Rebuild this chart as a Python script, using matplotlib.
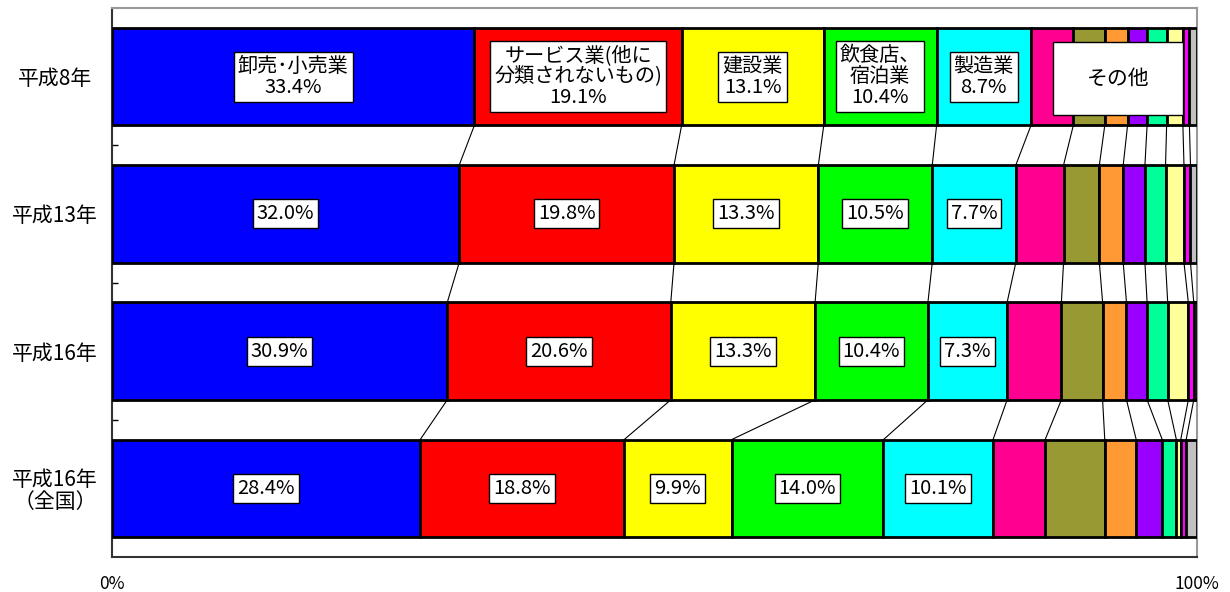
import matplotlib
matplotlib.use("Agg")
import matplotlib.pyplot as plt
from matplotlib.patches import Rectangle
import numpy as np

plt.rcParams['font.family'] = ['Noto Sans CJK JP', 'DejaVu Sans']

# Survey years (rows, top to bottom)
years = ['平成8年', '平成13年', '平成16年', '平成16年\n（全国）']

# Industry shares of establishments (%) for each row
wholesale_retail = [33.4, 32.0, 30.9, 28.4]
services_nec = [19.1, 19.8, 20.6, 18.8]
construction = [13.1, 13.3, 13.3, 9.9]
food_lodging = [10.4, 10.5, 10.4, 14.0]
manufacturing = [8.7, 7.7, 7.3, 10.1]
other_a = [3.9, 4.4, 5.0, 4.8]
other_b = [2.9, 3.3, 3.8, 5.5]
other_c = [2.1, 2.2, 2.2, 2.9]
other_d = [1.8, 2.0, 1.9, 2.4]
other_e = [1.8, 1.9, 1.9, 1.3]
other_f = [1.5, 1.7, 1.9, 0.4]
other_g = [0.6, 0.6, 0.5, 0.5]
other_h = [0.7, 0.6, 0.3, 1.0]

main_names = ['卸売･小売業', 'サービス業(他に\n分類されないもの)', '建設業',
              '飲食店、\n宿泊業', '製造業']
other_name = 'その他'

series = [wholesale_retail, services_nec, construction, food_lodging,
          manufacturing, other_a, other_b, other_c, other_d, other_e,
          other_f, other_g, other_h]
colors = ['#0000FF', '#FF0000', '#FFFF00', '#00FF00', '#00FFFF',
          '#FF0090', '#999933', '#FF9933', '#9900FF', '#00FF99',
          '#FFFF99', '#FF00FF', '#C0C0C0']

data = np.array(series)            # shape: (n_series, n_rows)
cum = np.cumsum(data, axis=0)
lefts = cum - data

fig = plt.figure(figsize=(12.3, 5.92), dpi=100)
ax = fig.add_axes([112 / 1230, 1 - 557 / 592, (1197 - 112) / 1230, (557 - 8) / 592])

ypos = np.arange(len(years))
bar_h = 0.71

for vals, left, col in zip(data, lefts, colors):
    ax.barh(ypos, vals, left=left, height=bar_h, color=col,
            edgecolor='black', linewidth=2.0, zorder=3)

# Series lines linking segment boundaries between consecutive rows
for k in range(len(series)):
    for i in range(len(years) - 1):
        ax.plot([cum[k, i], cum[k, i + 1]],
                [ypos[i] + bar_h / 2, ypos[i + 1] - bar_h / 2],
                color='black', linewidth=0.8, zorder=2)

box = dict(boxstyle='square,pad=0.2', facecolor='white', edgecolor='black',
           linewidth=1.0)

# Data labels for the five main industries
for k in range(5):
    for i in range(len(years)):
        xc = lefts[k, i] + data[k, i] / 2
        pct = f'{data[k, i]:.1f}%'
        label = f'{main_names[k]}\n{pct}' if i == 0 else pct
        ax.text(xc, ypos[i], label, ha='center', va='center',
                multialignment='center', fontsize=14.5, linespacing=1.0,
                bbox=box, zorder=5)

# Label box for the remaining industries in the first row
ax.add_patch(Rectangle((86.7, -0.25), 12.0, 0.53, facecolor='white',
                       edgecolor='black', linewidth=1.0, zorder=5))
ax.text(92.7, 0.015, other_name, ha='center', va='center', fontsize=15,
        zorder=6)

ax.set_xlim(0, 100)
ax.set_ylim(len(years) - 0.5, -0.5)

ax.set_xticks([0, 100])
ax.set_xticklabels(['0%', '100%'], fontsize=12.5)
ax.tick_params(axis='x', length=0, pad=13)

ax.set_yticks(ypos)
ax.set_yticklabels(years, fontsize=15, ha='center', multialignment='center',
                   linespacing=1.0)
ax.tick_params(axis='y', which='major', length=0, pad=41)
ax.set_yticks(ypos[:-1] + 0.5, minor=True)
ax.tick_params(axis='y', which='minor', direction='in', length=4,
               width=1.0, color='black')

for side in ['top', 'right']:
    ax.spines[side].set_color('#999999')
    ax.spines[side].set_linewidth(1.5)
for side in ['left', 'bottom']:
    ax.spines[side].set_color('#333333')
    ax.spines[side].set_linewidth(1.5)

fig.savefig('out.png', dpi=100, facecolor='white')
